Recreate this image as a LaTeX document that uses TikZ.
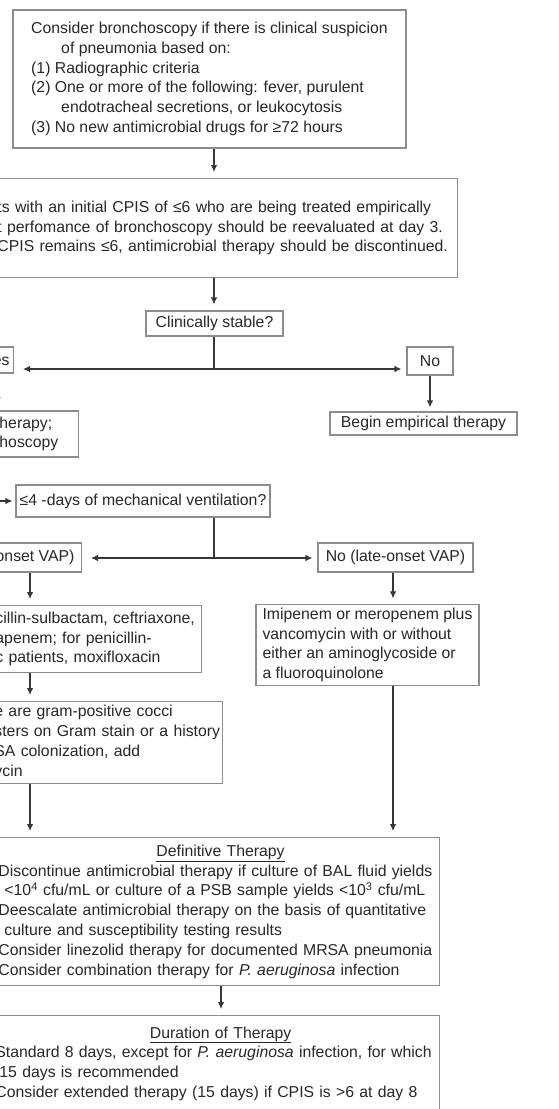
\documentclass[tikz,border=0pt]{standalone}
\usepackage{fontspec}
\setmainfont{Liberation Sans}
\usetikzlibrary{arrows.meta,calc}
\definecolor{boxc}{RGB}{140,140,140}
\definecolor{linec}{RGB}{55,55,55}
\definecolor{txtc}{RGB}{40,40,40}
\newcommand\Lb[1]{\mbox{#1}}
\begin{document}
\begin{tikzpicture}[x=1pt,y=1pt,
  box/.style={draw=boxc, line width=1.1pt, text=txtc, font=\fontsize{15.8}{19.8}\selectfont, inner sep=3pt},
  arr/.style={draw=linec, line width=1.1pt, -{Latex[length=7pt,width=6.5pt]}, shorten >=6pt},
  ln/.style={draw=linec, line width=1.1pt}]
\useasboundingbox (0,0) rectangle (559,-1109);
\clip (0,0) rectangle (559,-1109);
\fill[white] (0,0) rectangle (559,-1109);

% boxes
\node[box, minimum width=393, minimum height=138, align=left] (n1) at (209.5,-79)
 {Consider bronchoscopy if there is clinical suspicion\\
  \hspace*{30pt}of pneumonia based on:\\
  (1) Radiographic criteria\\
  (2) One or more of the following: fever, purulent\\
  \hspace*{30pt}endotracheal secretions, or leukocytosis\\
  (3) No new antimicrobial drugs for ≥72 hours};

\node[box, anchor=north east, inner xsep=10pt, text width=450pt, minimum height=99, align=left] (n2) at (458,-178)
 {\Lb{ts with an initial CPIS of ≤6 who are being treated empirically}\\
  \Lb{t perfomance of bronchoscopy should be reevaluated at day 3.}\\
  \Lb{CPIS remains ≤6, antimicrobial therapy should be discontinued.}};

\node[box, minimum width=137, minimum height=25] (n3) at (214.5,-323.5) {Clinically stable?};

\node[box, anchor=east, inner xsep=4pt, minimum height=26] (nyes) at (14,-360) {Yes};
\node[box, minimum width=46, minimum height=28] (nno) at (430,-361) {No};
\node[box, minimum width=187, minimum height=23] (nbegin) at (423.5,-423.5) {Begin empirical therapy};

\node[box, anchor=east, inner xsep=8pt, text width=71pt, minimum height=46, align=left] (nwith) at (79,-434)
 {\Lb{herapy;}\\\Lb{hoscopy}};

\node[box, inner xsep=2pt, minimum width=254, minimum height=32] (nmv) at (143,-501)
 {≤4 -days of mechanical ventilation?};

\node[box, anchor=east, inner xsep=7pt, minimum height=29] (nearly) at (82,-557.5) {onset VAP)};
\node[box, minimum width=155, minimum height=29] (nlate) at (395.5,-557.5) {No (late-onset VAP)};

\node[box, anchor=north east, inner xsep=2pt, text width=204pt, minimum height=67, align=left] (nabx1) at (202,-605)
 {\Lb{cillin-sulbactam, ceftriaxone,}\\
  \Lb{apenem; for penicillin-}\\
  \Lb{c patients, moxifloxacin}};

\node[box, minimum width=223, minimum height=80, align=left] (nimi) at (367.5,-645)
 {Imipenem or meropenem plus\\
  vancomycin with or without\\
  either an aminoglycoside or\\
  a fluoroquinolone};

\node[box, anchor=north east, inner xsep=2pt, text width=226pt, minimum height=82, align=left] (ngram) at (223,-701)
 {\Lb{e are gram-positive cocci}\\
  \Lb{sters on Gram stain or a history}\\
  \Lb{SA colonization, add}\\
  \Lb{ycin}};

\node[box, anchor=north east, inner xsep=3pt, text width=438pt, minimum height=148, align=left] (ndef) at (440,-837)
 {\Lb{\hspace*{158pt}\underline{Definitive Therapy}}\\
  \Lb{Discontinue antimicrobial therapy if culture of BAL fluid yields}\\
  \Lb{\hspace*{6pt}<10\textsuperscript{4} cfu/mL or culture of a PSB sample yields <10\textsuperscript{3} cfu/mL}\\
  \Lb{Deescalate antimicrobial therapy on the basis of quantitative}\\
  \Lb{\hspace*{6pt}culture and susceptibility testing results}\\
  \Lb{Consider linezolid therapy for documented MRSA pneumonia}\\
  \Lb{Consider combination therapy for \textit{P. aeruginosa} infection}};

\node[box, anchor=north east, inner xsep=3pt, inner ysep=11pt, text width=441pt, align=left] (ndur) at (440,-1015)
 {\Lb{\hspace*{154.5pt}\underline{Duration of Therapy}}\\
  \Lb{Standard 8 days, except for \textit{P. aeruginosa} infection, for which}\\
  \Lb{\hspace*{4pt}15 days is recommended}\\
  \Lb{Consider extended therapy (15 days) if CPIS is >6 at day 8}};

% connectors
\coordinate (cx) at (214,0);
\coordinate (xy) at (-2.5,0);
\coordinate (xh) at (-8,0);
\coordinate (xa) at (30,0);
\coordinate (xc) at (393,0);
\coordinate (xd) at (221,0);
\coordinate (j1) at (214,-369);
\coordinate (j2) at (214,-558);

\draw[arr] (n1.south -| cx) -- (n2.north -| cx);
\draw[arr] (n2.south -| cx) -- (n3.north -| cx);
\draw[ln] (n3.south -| cx) -- (j1);
\draw[arr, shorten >=9pt] (j1) -- (j1 -| nyes.east);
\draw[arr, shorten >=5pt] (j1) -- (j1 -| nno.west);
\draw[arr, shorten >=4pt] (nno.south) -- (nno.south |- nbegin.north);
\draw[arr] (nyes.south -| xy) -- (nwith.north -| xy);
\draw[arr, shorten >=3pt] (nwith.south -| xh) |- (nmv.west);
\draw[ln] (nmv.south -| cx) -- (j2);
\draw[arr, shorten >=9pt] (j2) -- (j2 -| nearly.east);
\draw[arr, shorten >=5pt] (j2) -- (j2 -| nlate.west);
\draw[arr] (nearly.south -| xa) -- (nabx1.north -| xa);
\draw[arr] (nlate.south -| xc) -- (nimi.north -| xc);
\draw[arr] (nabx1.south -| xa) -- (ngram.north -| xa);
\draw[arr] (ngram.south -| xa) -- (ndef.north -| xa);
\draw[arr] (nimi.south -| xc) -- (ndef.north -| xc);
\draw[arr] (ndef.south -| xd) -- (ndur.north -| xd);
\end{tikzpicture}
\end{document}
